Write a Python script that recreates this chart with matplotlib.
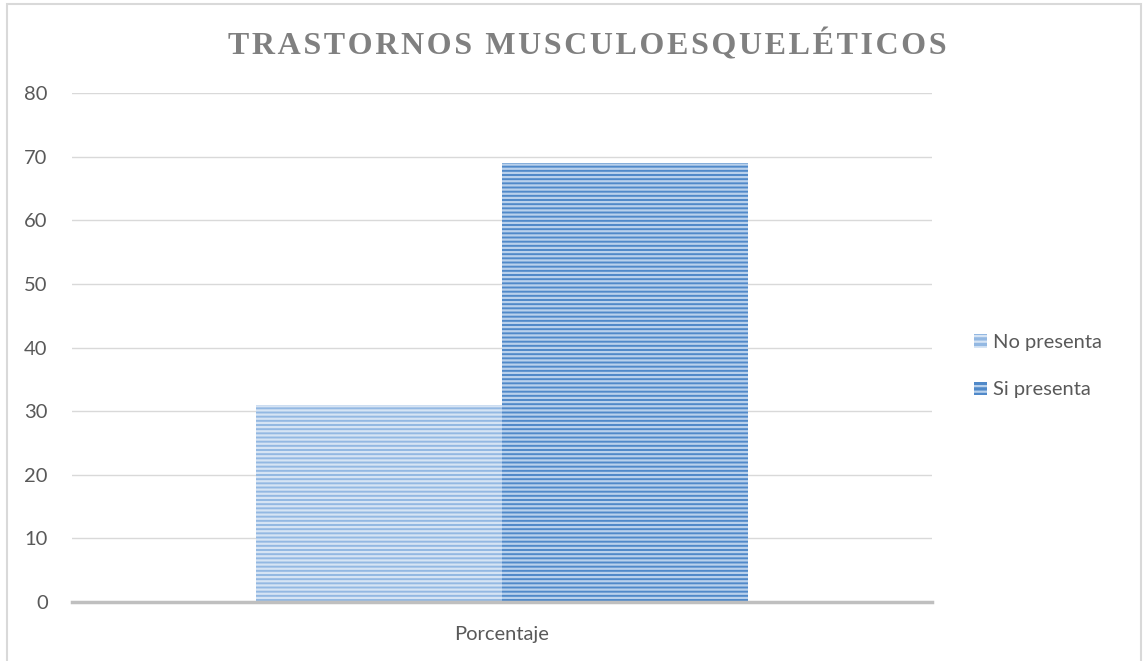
import matplotlib
matplotlib.use('Agg')
import matplotlib.pyplot as plt
from matplotlib.patches import Rectangle, Patch

categorias = ["Porcentaje"]
series = ["No presenta", "Si presenta"]
valores = [31, 69]
ticks_y = [0, 10, 20, 30, 40, 50, 60, 70, 80]

colores = ["#93B8E2", "#5089C9"]
colores_raya = ["#D6E4F4", "#B9D1EC"]

plt.rcParams['hatch.linewidth'] = 1.6

fig = plt.figure(figsize=(11.43, 6.61), dpi=100)
ax = fig.add_axes([0.063, 0.0893, 0.7524, 0.7697])

ancho = 0.286
for i, (nombre, val) in enumerate(zip(series, valores)):
    x = (i - 0.5) * ancho
    ax.bar(x, val, width=ancho, color=colores[i], edgecolor=colores_raya[i],
           hatch='----', linewidth=0, label=nombre, zorder=2)

ax.set_xlim(-0.5, 0.5)
ax.set_ylim(0, 80)
ax.set_yticks(ticks_y)
ax.set_xticks([0])
ax.set_xticklabels(categorias)
ax.yaxis.grid(True, color="#D9D9D9", linewidth=1)
ax.set_axisbelow(True)
for lado in ['top', 'right', 'left']:
    ax.spines[lado].set_visible(False)
ax.spines['bottom'].set_color("#BFBFBF")
ax.spines['bottom'].set_linewidth(2.5)
ax.spines['bottom'].set_zorder(3)
ax.tick_params(axis='both', length=0, labelsize=14.5, labelcolor="#595959")
ax.tick_params(axis='y', pad=17.5)
ax.tick_params(axis='x', pad=17)
for t in ax.get_xticklabels() + ax.get_yticklabels():
    t.set_fontfamily("Lato")

# titulo con espaciado entre letras
titulo = "TRASTORNOS MUSCULOESQUELÉTICOS"
fig.text(0.514, 0.932, "\u200a".join(titulo), ha='center', va='center',
         fontsize=23, fontweight='bold', color="#808080",
         family=['Liberation Serif', 'DejaVu Serif'])

handles = [Patch(facecolor=colores[i], edgecolor=colores_raya[i], hatch='---',
                 linewidth=0, label=series[i]) for i in range(2)]
leg = fig.legend(handles=handles, loc='center left', bbox_to_anchor=(0.836, 0.446),
                 frameon=False, handlelength=0.65, handleheight=0.65,
                 handletextpad=0.3, labelspacing=1.5,
                 prop={'family': 'Lato', 'size': 14.5})
for t in leg.get_texts():
    t.set_color("#595959")

# marco del grafico
fig.patches.append(Rectangle((7 / 1143, -0.02), 1134 / 1143, 1.02 - 3.5 / 661,
                             transform=fig.transFigure, fill=False,
                             edgecolor="#D9D9D9", linewidth=1.5))

fig.savefig("out.png", dpi=100)
